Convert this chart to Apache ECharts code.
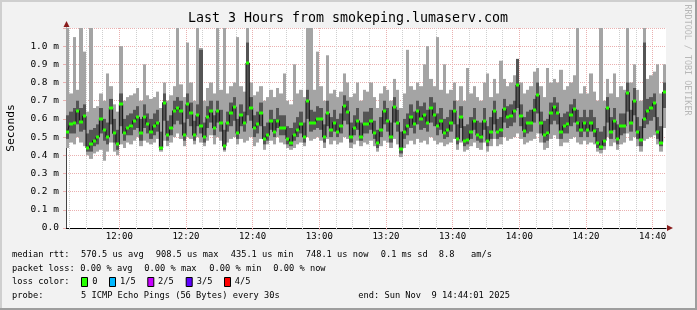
<!DOCTYPE html>
<html><head><meta charset="utf-8">
<script src="https://cdn.jsdelivr.net/npm/echarts@6/dist/echarts.min.js"></script>
<style>html,body{margin:0;padding:0;background:#f2f2f2}#c{width:697px;height:310px}</style>
</head><body><div id="c"></div><script>
// time axis in minutes since midnight: 11:44:01 .. 14:44:01, one column per minute
const startMin = 704 + 1 / 60;
const endMin = 884 + 1 / 60;
const stepMin = 1;

// median rtt per column (ms)
const medianMs = [
0.53,0.57,0.58,0.645,0.585,0.615,0.44,0.46,0.48,0.50,
0.60,0.54,0.50,0.66,0.52,0.46,0.68,0.52,0.55,0.56,
0.59,0.61,0.52,0.61,0.57,0.53,0.56,0.58,0.44,0.69,
0.51,0.55,0.645,0.66,0.645,0.51,0.68,0.63,0.51,0.62,
0.56,0.50,0.61,0.645,0.55,0.645,0.58,0.45,0.58,0.63,
0.667,0.52,0.62,0.575,0.908,0.66,0.55,0.57,0.63,0.49,
0.51,0.59,0.53,0.59,0.55,0.55,0.49,0.47,0.51,0.54,
0.57,0.50,0.70,0.58,0.58,0.60,0.60,0.50,0.63,0.54,
0.58,0.53,0.56,0.67,0.64,0.50,0.55,0.59,0.50,0.57,
0.57,0.59,0.52,0.465,0.54,0.645,0.59,0.50,0.667,0.58,
0.435,0.53,0.56,0.61,0.57,0.645,0.60,0.62,0.58,0.66,
0.62,0.56,0.59,0.52,0.54,0.58,0.645,0.49,0.61,0.48,
0.485,0.53,0.59,0.51,0.50,0.59,0.48,0.53,0.645,0.53,
0.54,0.655,0.61,0.615,0.645,0.787,0.615,0.535,0.575,0.58,
0.65,0.73,0.575,0.51,0.52,0.63,0.665,0.63,0.53,0.56,
0.57,0.62,0.655,0.58,0.54,0.58,0.54,0.58,0.535,0.466,
0.448,0.48,0.66,0.53,0.59,0.49,0.56,0.56,0.745,0.575,
0.70,0.53,0.485,0.60,0.645,0.66,0.685,0.53,0.47,0.748
];
// smoke: lowest ping per column (ms)
const loMs = [
0.44,0.47,0.46,0.50,0.47,0.45,0.40,0.38,0.41,0.42,
0.43,0.37,0.42,0.47,0.42,0.40,0.46,0.44,0.47,0.46,
0.48,0.50,0.45,0.48,0.47,0.46,0.47,0.49,0.42,0.48,
0.45,0.47,0.50,0.52,0.49,0.45,0.50,0.49,0.46,0.50,
0.47,0.45,0.48,0.51,0.46,0.50,0.48,0.42,0.47,0.49,
0.50,0.46,0.49,0.47,0.48,0.50,0.45,0.47,0.49,0.43,
0.46,0.48,0.46,0.50,0.47,0.46,0.44,0.43,0.44,0.46,
0.47,0.45,0.50,0.48,0.49,0.50,0.48,0.44,0.49,0.46,
0.48,0.46,0.47,0.50,0.49,0.44,0.46,0.48,0.45,0.47,
0.46,0.48,0.45,0.42,0.45,0.48,0.47,0.44,0.49,0.46,
0.39,0.44,0.46,0.48,0.46,0.49,0.47,0.48,0.46,0.50,
0.48,0.46,0.47,0.45,0.46,0.47,0.49,0.43,0.47,0.42,
0.43,0.45,0.47,0.44,0.43,0.47,0.42,0.45,0.49,0.45,
0.46,0.50,0.48,0.49,0.50,0.52,0.49,0.46,0.47,0.48,
0.49,0.52,0.47,0.43,0.44,0.49,0.51,0.49,0.45,0.47,
0.47,0.49,0.50,0.47,0.46,0.48,0.46,0.47,0.46,0.42,
0.41,0.43,0.50,0.45,0.47,0.43,0.46,0.47,0.52,0.48,
0.50,0.45,0.42,0.48,0.49,0.50,0.51,0.46,0.42,0.55
];
// smoke: inner (darker) band bottom
const q1Ms = [
0.49,0.52,0.52,0.57,0.53,0.54,0.42,0.42,0.45,0.46,
0.52,0.48,0.46,0.57,0.47,0.43,0.56,0.48,0.51,0.51,
0.54,0.55,0.48,0.55,0.52,0.49,0.51,0.53,0.43,0.59,
0.48,0.51,0.57,0.59,0.57,0.48,0.60,0.56,0.48,0.56,
0.52,0.47,0.55,0.58,0.51,0.58,0.53,0.43,0.53,0.56,
0.59,0.49,0.56,0.53,0.62,0.59,0.50,0.52,0.56,0.46,
0.48,0.54,0.50,0.55,0.51,0.51,0.46,0.45,0.48,0.50,
0.52,0.47,0.60,0.53,0.54,0.55,0.54,0.47,0.56,0.50,
0.53,0.50,0.52,0.59,0.57,0.47,0.51,0.54,0.48,0.52,
0.52,0.54,0.49,0.44,0.50,0.57,0.53,0.47,0.58,0.53,
0.41,0.49,0.51,0.55,0.52,0.57,0.54,0.55,0.53,0.58,
0.56,0.51,0.54,0.49,0.50,0.53,0.57,0.46,0.55,0.45,
0.46,0.49,0.54,0.48,0.47,0.54,0.45,0.49,0.57,0.49,
0.50,0.58,0.55,0.56,0.58,0.66,0.56,0.50,0.52,0.53,
0.58,0.63,0.52,0.47,0.48,0.57,0.59,0.57,0.49,0.52,
0.52,0.56,0.58,0.53,0.50,0.53,0.50,0.53,0.50,0.44,
0.43,0.45,0.58,0.49,0.54,0.46,0.51,0.52,0.64,0.53,
0.62,0.49,0.45,0.55,0.57,0.59,0.61,0.49,0.45,0.66
];
// smoke: inner (darker) band top
const q3Ms = [
0.62,0.64,0.66,0.70,0.66,0.68,0.52,0.54,0.55,0.57,
0.66,0.60,0.58,0.71,0.60,0.54,0.74,0.60,0.62,0.63,
0.65,0.67,0.60,0.68,0.63,0.60,0.63,0.65,0.53,0.74,
0.59,0.62,0.70,0.72,0.70,0.58,0.74,0.69,0.59,0.68,
0.98,0.58,0.67,0.70,0.62,0.70,0.65,0.54,0.64,0.69,
0.72,0.60,0.68,0.64,1.02,0.72,0.62,0.64,0.69,0.56,
0.58,0.65,0.60,0.66,0.62,0.62,0.56,0.55,0.58,0.61,
0.64,0.58,0.76,0.65,0.64,0.67,0.66,0.57,0.70,0.61,
0.65,0.60,0.63,0.73,0.70,0.58,0.62,0.66,0.58,0.64,
0.64,0.66,0.59,0.54,0.61,0.70,0.66,0.58,0.72,0.65,
0.53,0.60,0.63,0.68,0.64,0.70,0.67,0.69,0.65,0.72,
0.69,0.63,0.66,0.60,0.61,0.65,0.70,0.57,0.67,0.56,
0.57,0.61,0.66,0.59,0.58,0.66,0.56,0.61,0.70,0.60,
0.61,0.71,0.67,0.68,0.70,0.93,0.68,0.61,0.64,0.65,
0.71,0.80,0.64,0.59,0.60,0.69,0.72,0.69,0.61,0.63,
0.64,0.68,0.71,0.65,0.61,0.65,0.61,0.65,0.61,0.55,
0.53,0.56,0.72,0.61,0.66,0.57,0.63,0.63,0.80,0.65,
0.77,0.61,0.56,1.02,0.71,0.72,0.74,0.61,0.56,0.80
];
// smoke: highest ping per column (values above 1.1 are cut by the canvas)
const hiMs = [
1.2,0.74,1.05,0.76,1.2,0.97,0.64,1.2,0.66,0.67,
0.74,0.70,0.85,0.78,0.68,0.64,1.00,0.70,0.72,0.73,
0.74,0.77,0.70,0.90,0.73,0.71,0.72,0.75,0.66,0.80,
0.70,0.73,0.78,1.2,0.79,0.72,1.02,0.80,0.70,1.2,
0.99,0.70,0.77,0.80,0.74,1.2,0.76,1.2,0.74,0.78,
0.80,1.05,0.78,0.75,1.2,0.80,0.73,0.75,0.78,0.70,
0.72,0.76,0.72,0.77,0.74,0.85,0.70,0.68,0.90,0.74,
0.76,0.72,1.2,1.2,0.76,0.97,0.78,0.70,0.95,0.74,
0.76,0.72,0.75,0.85,0.80,0.72,0.74,0.80,0.70,0.76,
0.75,0.80,0.72,0.66,0.74,0.78,0.76,0.70,0.82,0.76,
0.66,0.74,0.98,0.78,0.76,0.80,0.78,0.90,1.00,0.82,
0.78,1.05,0.76,0.90,0.74,0.76,0.80,0.70,0.78,0.70,
0.88,0.74,0.78,0.72,0.70,0.80,0.85,0.72,0.82,0.74,
0.92,0.82,0.78,0.80,0.84,0.93,0.80,0.74,0.76,0.78,
0.86,0.88,0.78,0.72,0.88,0.80,0.82,0.80,0.87,0.76,
0.78,0.80,0.84,1.2,0.74,0.78,0.74,0.85,0.75,0.70,
1.2,0.70,0.82,0.74,0.85,0.72,0.78,0.76,1.2,0.80,
0.90,0.76,0.70,1.2,0.82,0.84,0.86,0.90,0.74,0.90
];

const majorTicks = [720, 740, 760, 780, 800, 820, 840, 860, 880];
const minorTicks = [705,710,715,725,730,735,745,750,755,765,770,775,785,790,795,805,810,815,825,830,835,845,850,855,865,870,875];

const titleText = 'Last 3 Hours from smokeping.lumaserv.com';
const yName = 'Seconds';
const sideText = 'RRDTOOL / TOBI OETIKER';
const legendLines = [
  [[12,'median rtt:'],[81,'570.5 us avg'],[155.7,'908.5 us max'],[230.7,'435.1 us min'],[305.7,'748.1 us now'],[380.7,'0.1 ms sd'],[438.7,'8.8'],[471,'am/s']],
  [[12,'packet loss:'],[80.3,'0.00 % avg'],[144.3,'0.00 % max'],[209.3,'0.00 % min'],[273.3,'0.00 % now']],
  [[12,'loss color:'],[92.3,'0'],[120,'1/5'],[158,'2/5'],[196.7,'3/5'],[234.7,'4/5']],
  [[12,'probe:'],[81,'5 ICMP Echo Pings (56 Bytes) every 30s'],[358.3,'end: Sun Nov  9 14:44:01 2025']]
];
const lossBoxes = [[81,'#26ff00'],[109,'#00b8ff'],[147.3,'#c800ff'],[185.7,'#5e00ff'],[224,'#ff0000']];

const MONO = '"DejaVu Sans Mono", monospace';
const LIGHT = '#a4a4a4', DARK = '#555555', MEDLINE = '#111111', MEDDOT = '#26ff00';
const MGRID = '#eab0b0', GRID = '#cfcfcf';

const rows = medianMs.map((m, i) => [startMin + (i + 0.5) * stepMin, loMs[i], q1Ms[i], q3Ms[i], hiMs[i], m]);

function smokeItem(params, api) {
  const x = api.value(0);
  const cs = params.coordSys;
  const box = { x: cs.x, y: cs.y, width: cs.width, height: cs.height };
  const left = Math.round(api.coord([x - stepMin / 2, 0])[0]);
  const right = Math.round(api.coord([x + stepMin / 2, 0])[0]);
  function band(a, b, fill) {
    const ya = api.coord([x, a])[1], yb = api.coord([x, b])[1];
    const shape = echarts.graphic.clipRectByRect({ x: left, y: yb, width: right - left, height: ya - yb }, box);
    return shape ? { type: 'rect', shape, style: { fill } } : null;
  }
  return { type: 'group', children: [band(api.value(1), api.value(4), LIGHT), band(api.value(2), api.value(3), DARK)].filter(Boolean) };
}
function dotItem(params, api) {
  const x = api.value(0);
  const left = Math.round(api.coord([x - stepMin / 2, 0])[0]);
  const right = Math.round(api.coord([x + stepMin / 2, 0])[0]);
  const y = api.coord([x, api.value(5)])[1];
  return { type: 'rect', shape: { x: left, y: Math.round(y) - 1.5, width: right - left, height: 3 }, style: { fill: MEDDOT } };
}
function hhmm(v) { const h = Math.floor(v / 60), m = Math.round(v - h * 60); return h + ':' + String(m).padStart(2, '0'); }

const graphics = [
  { type: 'rect', shape: { x: 0, y: 0, width: 697, height: 2 }, style: { fill: '#cfcfcf' }, silent: true },
  { type: 'rect', shape: { x: 0, y: 0, width: 2, height: 310 }, style: { fill: '#cfcfcf' }, silent: true },
  { type: 'rect', shape: { x: 0, y: 308, width: 697, height: 2 }, style: { fill: '#9e9e9e' }, silent: true },
  { type: 'rect', shape: { x: 695, y: 0, width: 2, height: 310 }, style: { fill: '#9e9e9e' }, silent: true },
  { type: 'text', style: { text: titleText, x: 348, y: 19, font: '13.3px ' + MONO, fill: '#000', align: 'center', verticalAlign: 'middle' } },
  { type: 'text', rotation: Math.PI / 2, x: 11, y: 128, style: { text: yName, x: 0, y: 0, font: '11.3px ' + MONO, fill: '#000', align: 'center', verticalAlign: 'middle' } },
  { type: 'text', rotation: -Math.PI / 2, x: 687, y: 60, style: { text: sideText, x: 0, y: 0, font: '8.4px ' + MONO, fill: '#b8b8b8', align: 'center', verticalAlign: 'middle' } },
  { type: 'polygon', z: 10, shape: { points: [[63.5, 27], [69.5, 27], [66.5, 21]] }, style: { fill: '#8a1c1c' } },
  { type: 'polygon', z: 10, shape: { points: [[667, 225], [667, 231], [673, 228]] }, style: { fill: '#8a1c1c' } }
];
const lineY = [254.5, 268.3, 281.7, 295.7];
legendLines.forEach((line, li) => line.forEach(([x, t]) => graphics.push({ type: 'text', style: { text: t, x, y: lineY[li], font: '8.7px ' + MONO, fill: '#000', align: 'left', verticalAlign: 'middle' } })));
lossBoxes.forEach(([x, c]) => graphics.push({ type: 'rect', shape: { x: x + 0.5, y: 277.5, width: 6, height: 9 }, style: { fill: c, stroke: '#000', lineWidth: 1 } }));

const chart = echarts.init(document.getElementById('c'), null, { renderer: 'canvas' });
chart.setOption({
  backgroundColor: '#f2f2f2',
  animation: false,
  grid: { left: 66, top: 28, width: 600, height: 200, show: true, backgroundColor: '#ffffff', borderWidth: 0 },
  xAxis: [
    { type: 'value', min: startMin, max: endMin, position: 'bottom',
      axisLine: { show: true, onZero: false, lineStyle: { color: '#000', width: 1 } },
      axisTick: { show: true, customValues: majorTicks, length: 2, inside: false, lineStyle: { color: MGRID } },
      axisLabel: { customValues: majorTicks, formatter: hhmm, margin: 4, fontFamily: 'DejaVu Sans Mono', fontSize: 9, color: '#000' },
      splitLine: { show: true, lineStyle: { color: MGRID, type: [1, 1], width: 1 } } },
    { type: 'value', min: startMin, max: endMin, position: 'bottom',
      axisLine: { show: false }, axisLabel: { show: false },
      axisTick: { show: true, customValues: minorTicks, length: 2, lineStyle: { color: GRID } },
      splitLine: { show: true, lineStyle: { color: GRID, type: [1, 1], width: 1 } } }
  ],
  yAxis: { type: 'value', min: 0, max: 1.1, interval: 0.1,
    axisLine: { show: true, lineStyle: { color: '#444', width: 1 } },
    axisTick: { show: true, length: 3, lineStyle: { color: MGRID } },
    axisLabel: { margin: 7, fontFamily: 'DejaVu Sans Mono', fontSize: 9.5, color: '#000',
      formatter: v => v < 0.05 ? '0.0' : (v > 1.05 ? '' : v.toFixed(1) + ' m') },
    splitLine: { show: true, lineStyle: { color: MGRID, type: [1, 1], width: 1 } } },
  series: [
    { type: 'custom', name: 'smoke', data: rows, renderItem: smokeItem, encode: { x: 0, y: [1, 4] }, z: 2, silent: true },
    { type: 'line', name: 'median', data: rows.map(r => [r[0], r[5]]), step: 'middle', showSymbol: false, symbol: 'none',
      lineStyle: { color: MEDLINE, width: 1 }, z: 3, silent: true },
    { type: 'custom', name: 'median loss 0', data: rows, renderItem: dotItem, encode: { x: 0, y: 5 }, z: 4, silent: true }
  ],
  graphic: graphics
});
</script></body></html>
